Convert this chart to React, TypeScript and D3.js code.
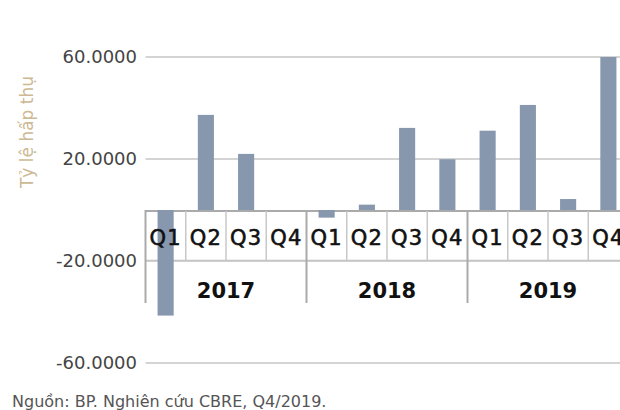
import React from 'react';
import * as d3 from 'd3';

const years = ['2017', '2018', '2019'];
const quarters = ['Q1', 'Q2', 'Q3', 'Q4'];
const values = [-41.4, 37.3, 22.0, 0, -3.0, 2.1, 32.2, 19.9, 31.1, 41.2, 4.3, 60.0];
const yTicks = [60, 20, -20, -60];

const W = 620;
const H = 410;
const BAR = '#8797ae';
const TICK_FONT = '"DejaVu Sans", sans-serif';

const App: React.FC = () => {
  const keys = years.flatMap(y => quarters.map(q => `${y}-${q}`));

  const x = d3.scaleBand<string>()
    .domain(keys)
    .range([145.5, 628.5])
    .padding(0);

  const y = d3.scaleLinear()
    .domain([-60, 60])
    .range([363, 57]);

  // source uses a plain hyphen for negatives
  const fmt = (v: number) => d3.format('.4f')(v).replace('\u2212', '-');
  const bw = x.bandwidth() * 0.4;
  const zero = y(0);
  const rowY = 260.5;
  const tableBottom = 303;
  const left = x.range()[0];

  return (
    <div style={{ position: 'absolute', left: 0, top: 0 }}>
      <svg width={W} height={H} style={{ display: 'block', background: '#fff' }}>
        {/* gridlines */}
        {yTicks.map(t => (
          <line key={t} x1={left} x2={W} y1={y(t)} y2={y(t)} stroke="#aaaaaa" strokeWidth={1.2} />
        ))}
        {yTicks.map(t => (
          <text key={t} x={137} y={y(t)} dy="0.36em" textAnchor="end"
            fontFamily={TICK_FONT} fontSize={18} fill="#444">
            {fmt(t)}
          </text>
        ))}

        {/* category table */}
        <line x1={left} x2={W} y1={zero + 1} y2={zero + 1} stroke="#aaaaaa" strokeWidth={2} />
        <line x1={left} x2={W} y1={rowY} y2={rowY} stroke="#c4c4c4" strokeWidth={1.5} />
        {keys.map((k, i) => {
          if (i === 0) return null;
          const bx = x(k)!;
          const yearEdge = i % 4 === 0;
          return (
            <line key={k} x1={bx} x2={bx} y1={zero + 1} y2={yearEdge ? tableBottom : rowY}
              stroke={yearEdge ? '#aaaaaa' : '#c8c8c8'} strokeWidth={yearEdge ? 2 : 1.5} />
          );
        })}
        <line x1={left} x2={left} y1={zero} y2={tableBottom} stroke="#aaaaaa" strokeWidth={2} />

        {/* bars */}
        {keys.map((k, i) => {
          const v = values[i];
          if (v === 0) return null;
          const cx = x(k)! + x.bandwidth() / 2;
          return (
            <rect key={k} x={cx - bw / 2} width={bw}
              y={Math.min(y(v), zero)} height={Math.abs(y(v) - zero)} fill={BAR} />
          );
        })}

        {/* quarter labels */}
        {keys.map(k => (
          <text key={k} x={x(k)! + x.bandwidth() / 2} y={245} textAnchor="middle"
            fontFamily={TICK_FONT} fontSize={21} letterSpacing={1.2}
            fill="#111" stroke="#111" strokeWidth={0.6}>
            {k.split('-')[1]}
          </text>
        ))}
        {years.map(yr => {
          const x0 = x(`${yr}-Q1`)!;
          const x1 = x(`${yr}-Q4`)! + x.bandwidth();
          return (
            <text key={yr} x={(x0 + x1) / 2} y={298} textAnchor="middle"
              fontFamily={TICK_FONT} fontSize={21} fontWeight="bold" fill="#111">
              {yr}
            </text>
          );
        })}

        {/* axis title */}
        <text transform={`translate(33,132) rotate(-90)`} textAnchor="middle"
          fontFamily={TICK_FONT} fontSize={17} fill="#cdb994">
          Tỷ lệ hấp thụ
        </text>

        {/* source */}
        <text x={12} y={407} fontFamily={TICK_FONT} fontSize={16} fill="#555">
          Nguồn: BP. Nghiên cứu CBRE, Q4/2019.
        </text>
      </svg>
    </div>
  );
};

export default App;
